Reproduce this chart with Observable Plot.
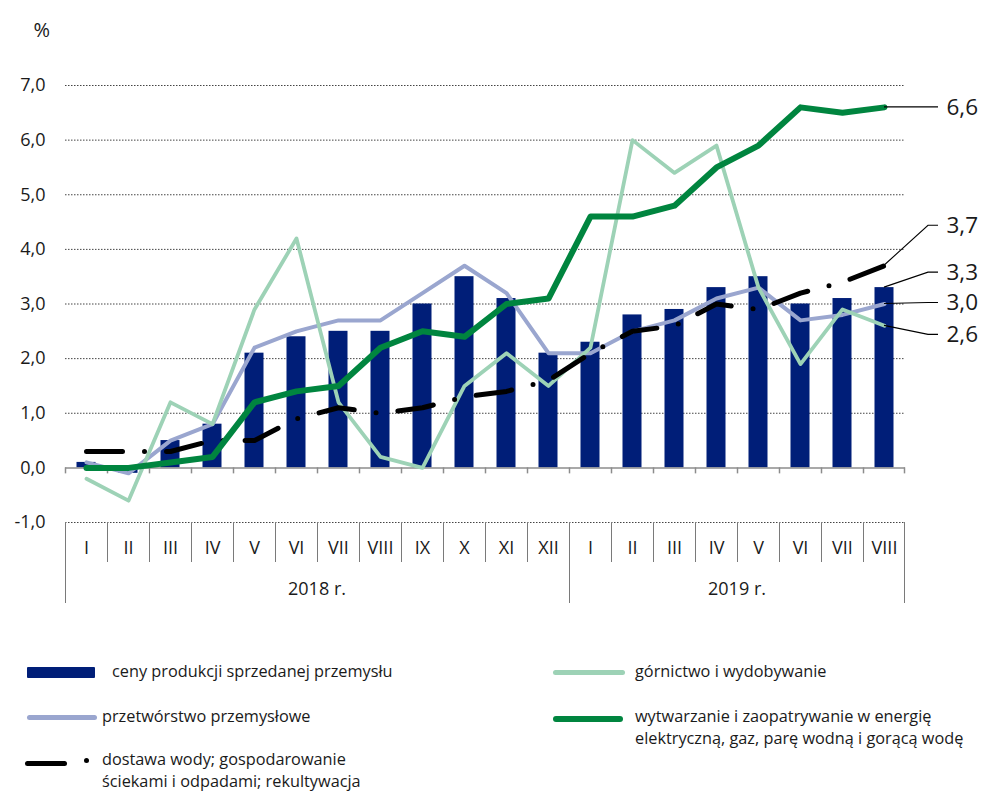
<!DOCTYPE html>
<html><head><meta charset="utf-8">
<script src="https://cdn.jsdelivr.net/npm/d3@7"></script>
<script src="https://cdn.jsdelivr.net/npm/@observablehq/plot@0.6"></script>
<style>
body{margin:0;background:#fff;font-family:"Open Sans",sans-serif;color:#1a1a1a;}
#wrap{position:relative;width:984px;height:793px;overflow:hidden;}
.leg{position:absolute;font-size:16.3px;line-height:21.5px;height:21.5px;white-space:nowrap;}
.sw{position:absolute;}
</style></head><body>
<div id="wrap"><div id="chart"></div></div>
<script>
// ---- data ----
const months = ["I","II","III","IV","V","VI","VII","VIII","IX","X","XI","XII","I","II","III","IV","V","VI","VII","VIII"];
const yearOf = ["2018 r.","2018 r.","2018 r.","2018 r.","2018 r.","2018 r.","2018 r.","2018 r.","2018 r.","2018 r.","2018 r.","2018 r.","2019 r.","2019 r.","2019 r.","2019 r.","2019 r.","2019 r.","2019 r.","2019 r."];
const years = ["2018 r.","2019 r."];
const ceny =         [0.1,-0.1,0.5,0.8,2.1,2.4,2.5,2.5,3.0,3.5,3.1,2.1,2.3,2.8,2.9,3.3,3.5,3.0,3.1,3.3];
const gornictwo =    [-0.2,-0.6,1.2,0.8,2.9,4.2,1.2,0.2,0.0,1.5,2.1,1.5,2.2,6.0,5.4,5.9,3.3,1.9,2.9,2.6];
const przetworstwo = [0.1,-0.1,0.5,0.8,2.2,2.5,2.7,2.7,3.2,3.7,3.2,2.1,2.1,2.5,2.7,3.1,3.3,2.7,2.8,3.0];
const energia =      [0.0,0.0,0.1,0.2,1.2,1.4,1.5,2.2,2.5,2.4,3.0,3.1,4.6,4.6,4.8,5.5,5.9,6.6,6.5,6.6];
const woda =         [0.3,0.3,0.3,0.5,0.5,0.9,1.1,1.0,1.1,1.3,1.4,1.6,2.1,2.5,2.6,3.0,2.9,3.2,3.4,3.7];
const yTicks = [-1,0,1,2,3,4,5,6,7];
const legendLines = {
  ceny: ["ceny produkcji sprzedanej przemysłu"],
  gornictwo: ["górnictwo i wydobywanie"],
  przetworstwo: ["przetwórstwo przemysłowe"],
  energia: ["wytwarzanie i zaopatrywanie w energię", "elektryczną, gaz, parę wodną i gorącą wodę"],
  woda: ["dostawa wody; gospodarowanie", "ściekami i odpadami; rekultywacja"]
};
const endSeries = ["energia","woda","ceny","przetworstwo","gornictwo"];

// ---- styles / layout ----
const C = {ceny:"#001e78", gornictwo:"#9dd2b6", przetworstwo:"#9aa6cf", energia:"#00853f", woda:"#000"};
const labelShift = {energia:0, woda:-40, ceny:-15, przetworstwo:-1, gornictwo:9};

const series = {ceny, gornictwo, przetworstwo, energia, woda};
const keys = months.map((m,i) => yearOf[i] + "|" + m);
const rows = keys.map((k,i) => ({key:k, month:months[i], year:yearOf[i],
  ceny:ceny[i], gornictwo:gornictwo[i], przetworstwo:przetworstwo[i], energia:energia[i], woda:woda[i]}));
const lastKey = keys[keys.length-1];
const fmt = v => v.toFixed(1).replace(".", ",");

function table(index, scales) {
  const x = scales.x, y = scales.y, bw = x.bandwidth();
  const g = d3.create("svg:g");
  const lines = g.append("g").attr("stroke","#7a7a7a").attr("stroke-width",1);
  const top = y(-1), monthBottom = top + 40, yearBottom = top + 81, y0 = y(0);
  keys.forEach((k,i) => {
    const xl = Math.round(x(k)) + 0.5;
    const yearStart = i === 0 || yearOf[i] !== yearOf[i-1];
    lines.append("line").attr("x1",xl).attr("x2",xl).attr("y1",top).attr("y2", yearStart ? yearBottom : monthBottom);
    lines.append("line").attr("x1",xl).attr("x2",xl).attr("y1",y0).attr("y2",y0+6).attr("stroke","#8c8c8c").attr("stroke-width",1.5);
  });
  const xr = Math.round(x(lastKey) + bw) - 0.5;
  lines.append("line").attr("x1",xr).attr("x2",xr).attr("y1",top).attr("y2",yearBottom);
  lines.append("line").attr("x1",xr).attr("x2",xr).attr("y1",y0).attr("y2",y0+6).attr("stroke","#8c8c8c").attr("stroke-width",1.5);
  const tg = g.append("g").attr("font-size",18).attr("text-anchor","middle").attr("fill","#1a1a1a");
  years.forEach(yr => {
    const ks = keys.filter((k,i) => yearOf[i] === yr);
    const a = x(ks[0]), b = x(ks[ks.length-1]) + bw;
    tg.append("text").attr("x",(a+b)/2).attr("y",top+67).attr("dy","0.35em").text(yr);
  });
  return g.node();
}

function leaders(index, scales) {
  const x = scales.x, y = scales.y;
  const cx = x(lastKey) + x.bandwidth()/2;
  const g = d3.create("svg:g").attr("stroke","#000").attr("fill","none").attr("stroke-width",1.1);
  endSeries.forEach(s => {
    const arr = series[s];
    const y0 = y(arr[arr.length-1]), y1 = y0 + labelShift[s];
    g.append("path").attr("d", `M${cx},${y0}L${cx+44},${y1}H${cx+54}`);
  });
  return g.node();
}

const lineMark = (s, w, extra={}) => Plot.line(rows, {x:"key", y:s, stroke:C[s], strokeWidth:w, strokeLinejoin:"round", ...extra});

const chart = Plot.plot({
  width: 984, height: 640,
  marginLeft: 65, marginRight: 79, marginTop: 85, marginBottom: 118,
  style: {fontFamily:"'Open Sans', sans-serif", fontSize:"18px", color:"#1a1a1a", background:"white", overflow:"visible"},
  x: {type:"band", domain: keys, padding: 0, axis: null},
  y: {domain:[-1,7], ticks: yTicks, tickFormat: fmt, tickSize: 0, tickPadding: 20, label: null},
  marks: [
    Plot.ruleY(yTicks.filter(v => v !== 0), {stroke:"#444", strokeDasharray:"1.5,1.5", strokeWidth:1}),
    Plot.barY(rows, {x:"key", y:"ceny", fill:C.ceny, insetLeft:11.5, insetRight:11.5}),
    Plot.ruleY([0], {stroke:"#8c8c8c", strokeWidth:1.5}),
    table,
    lineMark("przetworstwo", 4),
    lineMark("gornictwo", 3.8),
    lineMark("woda", 5, {strokeDasharray:"36,22,0,22", strokeLinecap:"round"}),
    lineMark("energia", 6),
    Plot.text(rows, {x:"key", y:() => -1, text:"month", dy:26, fontSize:18}),
    leaders,
    ...endSeries.map(s => Plot.text([s], {x:() => lastKey, y:d => series[d][series[d].length-1], text:d => fmt(series[d][series[d].length-1]),
      dx:62, dy:labelShift[s], textAnchor:"start", fontSize:22.5})),
    Plot.text(["%"], {frameAnchor:"top-left", text:d => d, dx:-32, dy:-63, fontSize:20})
  ]
});
document.getElementById("chart").appendChild(chart);

// ---- legend ----
const wrap = document.getElementById("wrap");
function sw(left, cy, w, h, color, radius) {
  const d = document.createElement("div");
  d.className = "sw";
  Object.assign(d.style, {left:left+"px", top:(cy-h/2)+"px", width:w+"px", height:h+"px", background:color, borderRadius:radius+"px"});
  wrap.appendChild(d);
}
function label(left, cy, lines) {
  lines.forEach((t, i) => {
    const d = document.createElement("div");
    d.className = "leg";
    d.style.left = left + "px";
    d.style.top = (cy - 10.75 + i*21.5) + "px";
    d.textContent = t;
    wrap.appendChild(d);
  });
}
sw(27, 672, 68, 11, C.ceny, 1);
label(112, 672, legendLines.ceny);
sw(553, 672, 72, 5, C.gornictwo, 3);
label(635, 672, legendLines.gornictwo);
sw(27, 717, 70, 5, C.przetworstwo, 3);
label(102, 717, legendLines.przetworstwo);
sw(553, 719, 70, 6, C.energia, 3);
label(635, 717, legendLines.energia);
sw(25, 763, 42, 5, C.woda, 3);
sw(83.5, 760.5, 5, 5, C.woda, 3);
label(102, 760, legendLines.woda);
</script>
</body></html>
